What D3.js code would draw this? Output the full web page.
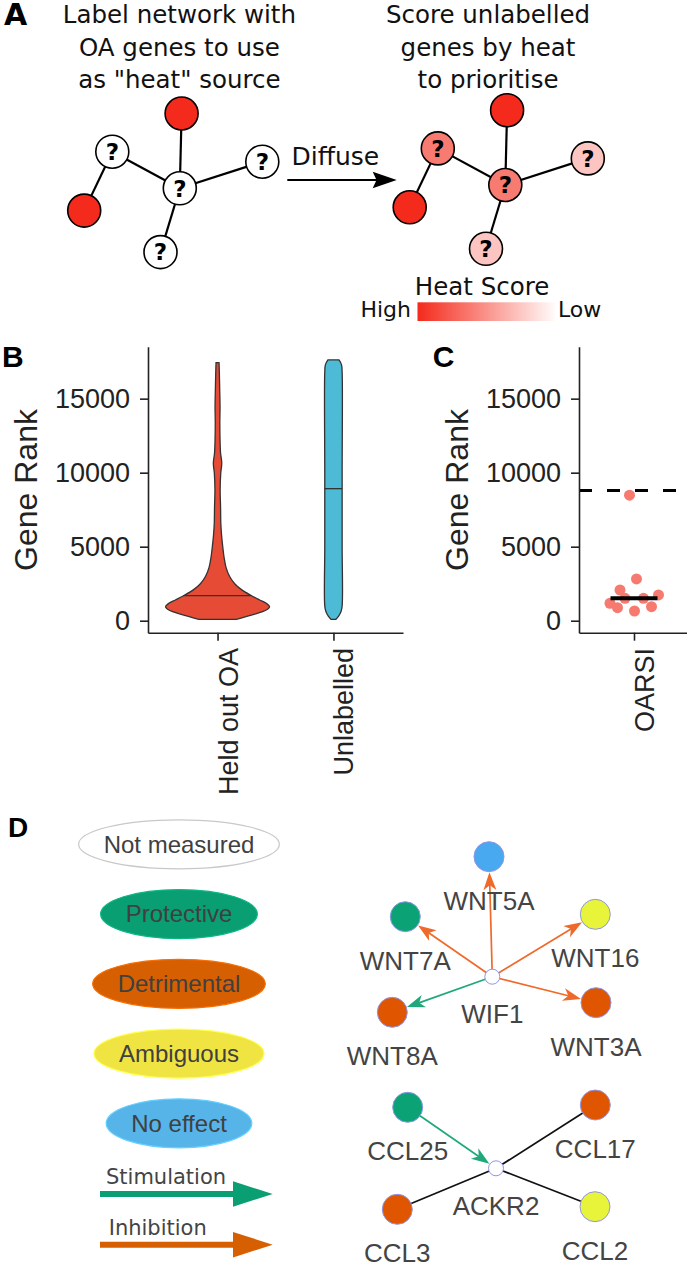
<!DOCTYPE html>
<html><head><meta charset="utf-8">
<script src="https://cdn.jsdelivr.net/npm/d3@7"></script>
<style>body{margin:0;background:#fff}svg{display:block}</style>
</head><body>
<svg id="fig" width="687" height="1263"></svg>
<script>
// ================= DATA =================
// Panel A (schematic)
const titleLeft = ["Label network with", "OA genes to use", "as \"heat\" source"];
const titleRight = ["Score unlabelled", "genes by heat", "to prioritise"];
const schemNodes = ["hub", "top", "left", "right", "bottom", "source"];
const schemDX = [0, 1.8, -67.5, 82.5, -19.3, -95.6];
const schemDY = [0, -74.8, -36.6, -26.6, 63.8, 22.3];
const schemIsSource = [false, true, false, false, false, true];
const schemHeatAfter = [0.62, 1, 0.62, 0.27, 0.27, 1];
const schemEdges = [["left", "hub"], ["hub", "top"], ["hub", "right"], ["hub", "bottom"], ["left", "source"]];
const heatLabels = ["Heat Score", "High", "Low"];

// Panel B (violins)
const categoriesB = ["Held out OA", "Unlabelled"];
const heldOutRanks = [95, 385, 723, 946, 1176, 1400, 1690, 2100, 2500, 3000, 3600, 4300, 4700, 5000, 5800, 6580, 7700, 8830, 9980, 10640, 11330, 12210, 13360, 14460, 15590, 16740, 17430];
const heldOutDensity = [0.36, 0.65, 0.937, 1.0, 0.937, 0.81, 0.654, 0.46, 0.33, 0.23, 0.163, 0.125, 0.11, 0.1, 0.077, 0.063, 0.058, 0.05, 0.062, 0.081, 0.058, 0.048, 0.044, 0.048, 0.042, 0.035, 0.029];
const unlabelledRanks = [95, 300, 600, 1000, 5000, 10000, 16800, 17300, 17615];
const unlabelledDensity = [0.048, 0.096, 0.144, 0.167, 0.167, 0.167, 0.167, 0.154, 0.106];
const medianRanksB = [1690, 8920];
const yTicks = [0, 5000, 10000, 15000];
const yLimits = [-810, 18510];

// Panel C (OARSI genes)
const categoriesC = ["OARSI"];
const oarsiRanks = [8480, 2820, 2075, 1740, 1510, 1510, 1180, 880, 655, 950];
const oarsiJitter = [-0.09, 0.05, -0.28, 0.49, 0.19, -0.18, -0.48, -0.33, 0.01, 0.35];
const oarsiMedian = 1510;
const expectedRank = 8800;

// Panel D (network)
const legendLabels = ["Not measured", "Protective", "Detrimental", "Ambiguous", "No effect"];
const legendColors = ["#ffffff", "#0a9e73", "#d65f02", "#f0e442", "#56b4e9"];
const nodeColors = ["#ffffff", "#0ba375", "#e05500", "#e8f43a", "#48a8f0"];
const interactionLabels = ["Stimulation", "Inhibition"];
const interactionColors = ["#0a9e73", "#d65f02"];
const edgeColors = {Stimulation: "#1fa97b", Inhibition: "#ef6a2a", None: "#111111"};
const genes = ["WIF1", "WNT5A", "WNT7A", "WNT16", "WNT8A", "WNT3A", "ACKR2", "CCL25", "CCL17", "CCL3", "CCL2"];
const geneEffect = ["Not measured", "No effect", "Protective", "Ambiguous", "Detrimental", "Detrimental", "Not measured", "Protective", "Detrimental", "Detrimental", "Ambiguous"];
const geneLayoutX = [0.0, -3.3, -87.0, 103.0, -100.0, 103.7, 3.7, -84.6, 103.0, -95.0, 102.7];
const geneLayoutY = [0.0, -120.0, -60.0, -62.4, 35.6, 26.0, 191.6, 130.6, 128.3, 232.6, 230.0];
const edgeSource = ["WIF1", "WIF1", "WIF1", "WIF1", "WIF1", "CCL25", "ACKR2", "ACKR2", "ACKR2"];
const edgeTarget = ["WNT5A", "WNT7A", "WNT16", "WNT3A", "WNT8A", "ACKR2", "CCL17", "CCL3", "CCL2"];
const edgeType = ["Inhibition", "Inhibition", "Inhibition", "Inhibition", "Stimulation", "Stimulation", "None", "None", "None"];

// ================= DRAWING =================
const svg = d3.select("#fig");
const SANS = "'Liberation Sans', Arial, sans-serif";
const DV = "'DejaVu Sans', sans-serif";

// ---------- Panel A ----------
const gA = svg.append("g");
gA.append("text").text("A").attr("x", 4).attr("y", 25)
  .attr("font-family", DV).attr("font-weight", "bold").attr("font-size", 30).attr("fill", "#000");
const titleY = d3.scaleLinear().domain([0, 2]).range([22.7, 88.3]);
[[titleLeft, 179.4], [titleRight, 488]].forEach(([lines, cx]) => {
  gA.selectAll(null).data(lines).join("text")
    .attr("x", cx).attr("y", (d, i) => titleY(i))
    .attr("text-anchor", "middle").attr("font-family", DV).attr("font-size", 24.5).attr("fill", "#111")
    .text(d => d);
});
const heatColor = d3.interpolateRgb("#ffffff", "#f42a1c");
const netCenters = [{x: 179.8, y: 188.3, after: false}, {x: 505.3, y: 185, after: true}];
netCenters.forEach(c => {
  const pos = {};
  schemNodes.forEach((n, i) => pos[n] = {x: c.x + schemDX[i], y: c.y + schemDY[i]});
  const g = gA.append("g");
  g.selectAll("line").data(schemEdges).join("line")
    .attr("x1", d => pos[d[0]].x).attr("y1", d => pos[d[0]].y)
    .attr("x2", d => pos[d[1]].x).attr("y2", d => pos[d[1]].y)
    .attr("stroke", "#000").attr("stroke-width", 2.2);
  const nodes = g.selectAll("g.n").data(schemNodes).join("g").attr("class", "n")
    .attr("transform", d => `translate(${pos[d].x},${pos[d].y})`);
  nodes.append("circle").attr("r", 16.5)
    .attr("fill", (d, i) => schemIsSource[i] ? heatColor(1) : (c.after ? heatColor(schemHeatAfter[i]) : "#fff"))
    .attr("stroke", "#000").attr("stroke-width", 1.6);
  nodes.filter((d, i) => !schemIsSource[i]).append("text").text("?")
    .attr("text-anchor", "middle").attr("dy", "0.36em")
    .attr("font-family", DV).attr("font-weight", "bold").attr("font-size", 23).attr("fill", "#000");
});
// Diffuse arrow
gA.append("text").text("Diffuse").attr("x", 291.5).attr("y", 165)
  .attr("font-family", DV).attr("font-size", 25).attr("fill", "#111");
gA.append("line").attr("x1", 287.3).attr("x2", 380).attr("y1", 180).attr("y2", 180)
  .attr("stroke", "#000").attr("stroke-width", 2);
gA.append("path").attr("d", "M396.7,180 L372.7,171.7 L376.5,180 L372.7,188.3 Z").attr("fill", "#000");
// Heat legend
const grad = svg.append("defs").append("linearGradient").attr("id", "heatGrad");
grad.append("stop").attr("offset", "0%").attr("stop-color", heatColor(1));
grad.append("stop").attr("offset", "100%").attr("stop-color", heatColor(0.02));
gA.append("text").text(heatLabels[0]).attr("x", 482).attr("y", 295).attr("text-anchor", "middle")
  .attr("font-family", DV).attr("font-size", 24.5).attr("fill", "#111");
gA.append("rect").attr("x", 417.5).attr("y", 302.3).attr("width", 137.3).attr("height", 18.7).attr("fill", "url(#heatGrad)");
gA.append("text").text(heatLabels[1]).attr("x", 411).attr("y", 316.7).attr("text-anchor", "end")
  .attr("font-family", DV).attr("font-size", 22).attr("fill", "#111");
gA.append("text").text(heatLabels[2]).attr("x", 558).attr("y", 316.7)
  .attr("font-family", DV).attr("font-size", 22).attr("fill", "#111");

// ---------- shared y scale ----------
const y = d3.scaleLinear().domain(yLimits).range([632.7, 346.7]);
function styleAxis(g) {
  g.selectAll("path.domain").attr("stroke", "#222").attr("stroke-width", 1.6);
  g.selectAll(".tick line").attr("stroke", "#222").attr("stroke-width", 1.6);
  g.selectAll(".tick text").attr("font-family", SANS).attr("font-size", 27).attr("fill", "#222");
}
function drawYAxis(x0, labelX) {
  const g = svg.append("g").attr("transform", `translate(${x0},0)`)
    .call(d3.axisLeft(y).tickValues(yTicks).tickFormat(d3.format("d")).tickSize(8).tickPadding(10).tickSizeOuter(0));
  styleAxis(g);
  svg.append("text").text("Gene Rank").attr("transform", `translate(${labelX},490) rotate(-90)`)
    .attr("text-anchor", "middle").attr("font-family", SANS).attr("font-size", 32).attr("fill", "#222");
}
function drawXAxis(scale) {
  const g = svg.append("g").attr("transform", "translate(0,632.7)")
    .call(d3.axisBottom(scale).tickSize(8).tickSizeOuter(0));
  styleAxis(g);
  g.selectAll(".tick text").attr("transform", "rotate(-90)").attr("text-anchor", "end")
    .attr("x", -15.3).attr("y", 19.5).attr("dy", 0);
}

// ---------- Panel B ----------
const xB = d3.scalePoint().domain(categoriesB).range([148, 403]).padding(0.6);
const wB = d3.scaleLinear().domain([0, 1]).range([0, 52]);
const violinData = [
  {cat: categoriesB[0], r: heldOutRanks, d: heldOutDensity, fill: "#e64b35", median: medianRanksB[0]},
  {cat: categoriesB[1], r: unlabelledRanks, d: unlabelledDensity, fill: "#4dbbd5", median: medianRanksB[1]}
];
violinData.forEach(v => {
  const cx = xB(v.cat);
  const pts = v.r.map((r, i) => ({r, d: v.d[i]}));
  const area = d3.area().curve(d3.curveCatmullRom.alpha(0.5))
    .y(p => y(p.r)).x0(p => cx - wB(p.d)).x1(p => cx + wB(p.d));
  svg.append("path").attr("d", area(pts)).attr("fill", v.fill).attr("stroke", "#333").attr("stroke-width", 1.3);
  const dens = d3.scaleLinear().domain(v.r).range(v.d)(v.median);
  svg.append("line").attr("x1", cx - wB(dens)).attr("x2", cx + wB(dens))
    .attr("y1", y(v.median)).attr("y2", y(v.median)).attr("stroke", "#333").attr("stroke-width", 1.3);
});
drawYAxis(148, 36.7);
drawXAxis(xB);
svg.append("text").text("B").attr("x", 2).attr("y", 366.7)
  .attr("font-family", SANS).attr("font-weight", "bold").attr("font-size", 30).attr("fill", "#000");

// ---------- Panel C ----------
const xC = d3.scalePoint().domain(categoriesC).range([579, 689]).padding(0.5);
const jit = d3.scaleLinear().domain([-1, 1]).range([-50, 50]);
svg.append("line").attr("x1", 579).attr("x2", 687).attr("y1", y(expectedRank)).attr("y2", y(expectedRank))
  .attr("stroke", "#000").attr("stroke-width", 3).attr("stroke-dasharray", "13,15");
svg.append("g").selectAll("circle").data(oarsiRanks).join("circle")
  .attr("cx", (d, i) => xC(categoriesC[0]) + jit(oarsiJitter[i]))
  .attr("cy", d => y(d)).attr("r", 5.5).attr("fill", "#f67a6f");
svg.append("line").attr("x1", xC(categoriesC[0]) + jit(-0.47)).attr("x2", xC(categoriesC[0]) + jit(0.47))
  .attr("y1", y(oarsiMedian)).attr("y2", y(oarsiMedian)).attr("stroke", "#000").attr("stroke-width", 4);
drawYAxis(579, 468.3);
drawXAxis(xC);
svg.append("text").text("C").attr("x", 432.7).attr("y", 367)
  .attr("font-family", SANS).attr("font-weight", "bold").attr("font-size", 30).attr("fill", "#000");

// ---------- Panel D ----------
svg.append("text").text("D").attr("x", 8).attr("y", 837)
  .attr("font-family", SANS).attr("font-weight", "bold").attr("font-size", 28).attr("fill", "#000");
const legY = d3.scaleLinear().domain([0, legendLabels.length - 1]).range([844.3, 1123.3]);
legendLabels.forEach((lab, i) => {
  const g = svg.append("g").attr("transform", `translate(179,${legY(i)})`);
  const el = g.append("ellipse").attr("ry", 24.5).attr("fill", legendColors[i])
    .attr("stroke", i === 0 ? "#c8c8c8" : d3.color(legendColors[i]).brighter(0.4)).attr("stroke-width", 1.2);
  const t = g.append("text").text(lab).attr("text-anchor", "middle").attr("dy", "0.35em")
    .attr("font-family", SANS).attr("font-size", 24).attr("fill", "#404040");
  el.attr("rx", t.node().getComputedTextLength() / 2 + 25);
});
const arrY = d3.scaleLinear().domain([0, 1]).range([1194, 1244.7]);
interactionLabels.forEach((lab, i) => {
  const yy = arrY(i);
  svg.append("line").attr("x1", 100).attr("x2", 234).attr("y1", yy).attr("y2", yy)
    .attr("stroke", interactionColors[i]).attr("stroke-width", 6);
  svg.append("path").attr("d", `M233,${yy - 12.7} L272.7,${yy} L233,${yy + 12.7} Z`).attr("fill", interactionColors[i]);
  svg.append("text").text(lab).attr("x", i === 0 ? 106 : 108.7).attr("y", yy - 10)
    .attr("font-family", DV).attr("font-size", 21).attr("fill", "#444");
});

// network
const nx = d3.scaleLinear().domain([0, 1]).range([492.3, 493.3]);
const ny = d3.scaleLinear().domain([0, 1]).range([976.7, 977.7]);
const nodePos = {};
genes.forEach((g, i) => {
  const hub = geneEffect[i] === "Not measured";
  nodePos[g] = {x: nx(geneLayoutX[i]), y: ny(geneLayoutY[i]), r: hub ? 7.5 : 15, hub,
    color: nodeColors[legendLabels.indexOf(geneEffect[i])]};
});
const gEdges = svg.append("g");
edgeSource.forEach((s, i) => {
  const a = nodePos[s], b = nodePos[edgeTarget[i]];
  const dx = b.x - a.x, dy = b.y - a.y, L = Math.hypot(dx, dy), ux = dx / L, uy = dy / L;
  const col = edgeColors[edgeType[i]];
  const tipX = b.x - ux * (b.r + 0.5), tipY = b.y - uy * (b.r + 0.5);
  const directed = edgeType[i] !== "None";
  const endX = directed ? tipX - ux * 12 : b.x, endY = directed ? tipY - uy * 12 : b.y;
  gEdges.append("line").attr("x1", a.x).attr("y1", a.y).attr("x2", endX).attr("y2", endY)
    .attr("stroke", col).attr("stroke-width", 1.7);
  if (directed) {
    const len = 18, hw = 6.5, notch = 5;
    const bx = tipX - ux * len, by = tipY - uy * len;
    const px = -uy, py = ux;
    const nX = tipX - ux * (len - notch), nY = tipY - uy * (len - notch);
    gEdges.append("path").attr("d",
      `M${tipX},${tipY} L${bx + px * hw},${by + py * hw} L${nX},${nY} L${bx - px * hw},${by - py * hw} Z`)
      .attr("fill", col);
  }
});
const gNodes = svg.append("g");
genes.forEach(g => {
  const p = nodePos[g];
  gNodes.append("circle").attr("cx", p.x).attr("cy", p.y).attr("r", p.r)
    .attr("fill", p.color).attr("stroke", "#9096e6").attr("stroke-width", 1);
  gNodes.append("text").text(g).attr("x", p.x).attr("y", p.y + (p.hub ? 46.3 : 53))
    .attr("text-anchor", "middle").attr("font-family", SANS).attr("font-size", 26).attr("fill", "#444");
});
</script>
</body></html>
